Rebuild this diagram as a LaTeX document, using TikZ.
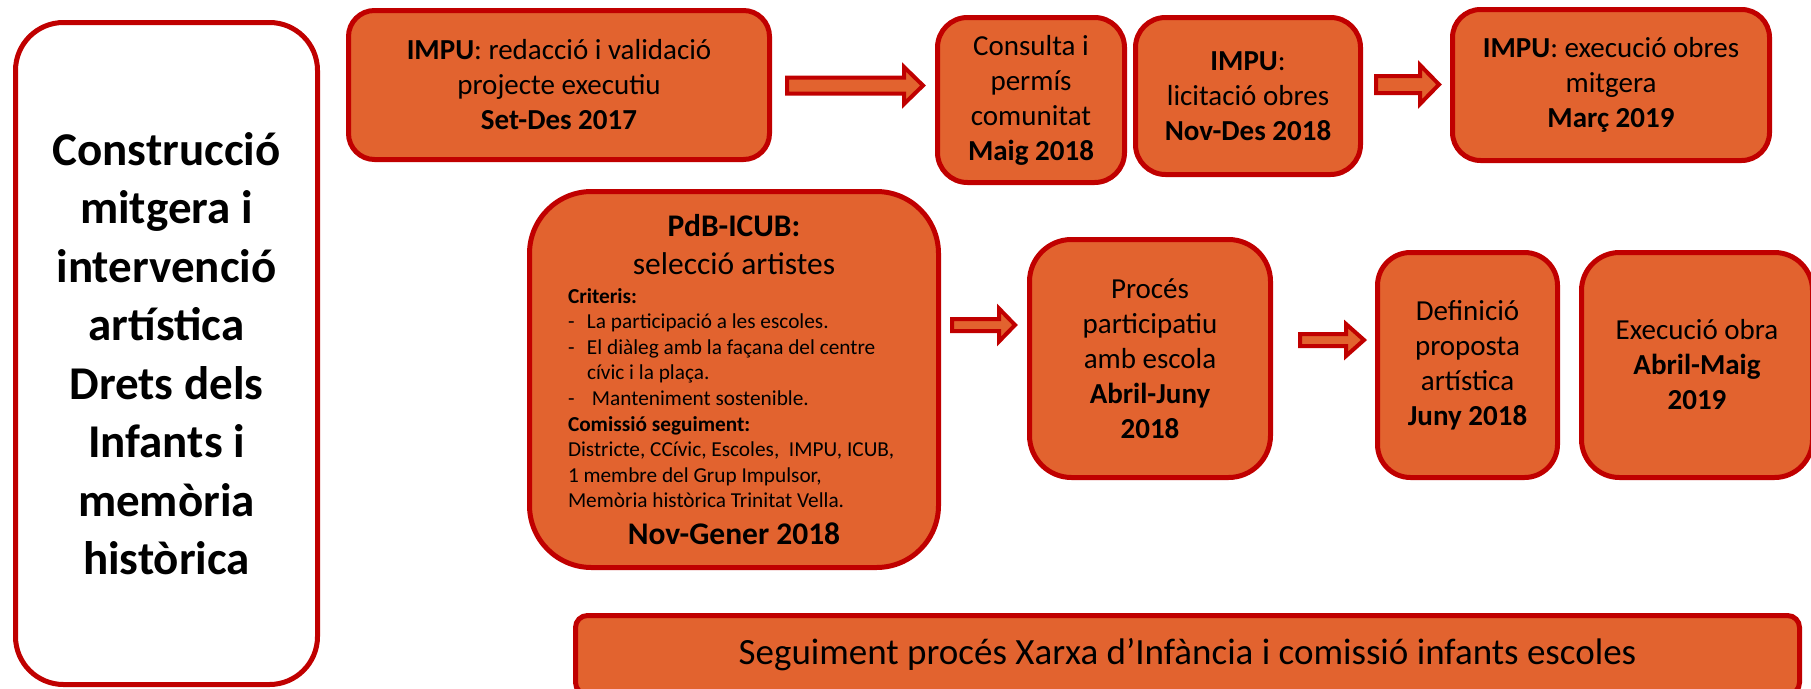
\documentclass[tikz,border=0pt]{standalone}
\usepackage{fontspec}
\setmainfont{Carlito}
\usetikzlibrary{calc}
\definecolor{boxfill}{HTML}{E2632F}
\definecolor{boxline}{HTML}{C00000}
\tikzset{
  box/.style={draw=boxline, line width=5pt, fill=boxfill, align=center, inner sep=0pt, text=black,
    font=\fontsize{29}{35}\selectfont},
  titlebox/.style={draw=boxline, line width=5pt, fill=white, align=center, inner sep=0pt, text=black,
    font=\fontsize{47}{58.5}\selectfont\bfseries},
  blockarrow/.style={draw=boxline, line width=4pt, fill=boxfill, line join=miter},
}
\newcommand{\blockarr}[5]{%
  \path[blockarrow] ($(#1)+(0,#3)$) -- ($(#2)+(-#5,#3)$) -- ($(#2)+(-#5,#4)$) -- (#2)
    -- ($(#2)+(-#5,-#4)$) -- ($(#2)+(-#5,-#3)$) -- ($(#1)+(0,-#3)$) -- cycle;}
\newcommand{\lline}[1]{\makebox[332pt][l]{#1}\par}
\newcommand{\ctrline}[1]{\makebox[332pt][c]{#1}\par}
\begin{document}
\begin{tikzpicture}[x=1pt,y=-1pt]
\useasboundingbox (0,0) rectangle (1811,688);
\clip (0,0) rectangle (1811,688);

% left title box
\node[titlebox, minimum width=302pt, minimum height=662pt, rounded corners=48pt] (L) at (166.5,353.5)
  {Construcció\\mitgera i\\intervenció\\artística\\Drets dels\\Infants i\\memòria\\històrica};

% top row
\node[box, minimum width=421pt, minimum height=149pt, rounded corners=26pt] (A) at (559,85)
  {\textbf{IMPU}: redacció i validació\\projecte executiu\\\textbf{Set-Des 2017}};
\node[box, minimum width=187pt, minimum height=165pt, rounded corners=30pt] (B) at (1031,100)
  {Consulta i\\permís\\comunitat\\\textbf{Maig 2018}};
\node[box, minimum width=225pt, minimum height=157pt, rounded corners=30pt] (C) at (1248,96)
  {\textbf{IMPU}:\\licitació obres\\\textbf{Nov-Des 2018}};
\node[box, minimum width=317pt, minimum height=151pt, rounded corners=28pt] (D) at (1611,85)
  {\textbf{IMPU}: execució obres\\mitgera\\\textbf{Març 2019}};

% middle row
\node[box, minimum width=409pt, minimum height=376pt, rounded corners=62pt, text width=332pt] (E) at (734,379.5)
  {\setlength{\parindent}{0pt}\spaceskip=0pt\relax\xspaceskip=0pt\relax
   {\fontsize{31.5}{38}\selectfont\ctrline{\textbf{PdB-ICUB:}}\ctrline{selecció artistes}}%
   \vspace{3.4pt}%
   {\fontsize{21.3}{25.6}\selectfont
   \lline{\textbf{Criteris:}}
   \lline{\makebox[19pt][l]{-}La participació a les escoles.}
   \lline{\makebox[19pt][l]{-}El diàleg amb la façana del centre}
   \lline{\hspace*{19pt}cívic i la plaça.}
   \lline{\makebox[24pt][l]{-}Manteniment sostenible.}
   \lline{\textbf{Comissió seguiment:}}
   \lline{Districte, CCívic, Escoles,\ \ IMPU, ICUB,}
   \lline{1 membre del Grup Impulsor,}
   \lline{Memòria històrica Trinitat Vella.}}%
   {\fontsize{31.5}{37}\selectfont\ctrline{\textbf{Nov-Gener 2018}}}};
\node[box, minimum width=241pt, minimum height=238pt, rounded corners=42pt] (F) at (1150,358.5)
  {Procés\\participatiu\\amb escola\\\textbf{Abril-Juny}\\\textbf{2018}};
\node[box, minimum width=180pt, minimum height=225pt, rounded corners=33pt] (G) at (1467.5,365)
  {Definició\\proposta\\artística\\\textbf{Juny 2018}};
\node[box, minimum width=231pt, minimum height=225pt, rounded corners=38pt] (H) at (1697,365)
  {Execució obra\\\textbf{Abril-Maig}\\\textbf{2019}};

% bottom bar
\node[box, minimum width=1224pt, minimum height=79pt, rounded corners=12pt, font=\fontsize{37}{44}\selectfont] (I) at (1187.5,655)
  {Seguiment procés Xarxa d’Infància i comissió infants escoles};

% block arrow end points, derived from the boxes they join
\coordinate (a1s) at ($(A.east)+(15,0.5)$);
\coordinate (a1e) at ($(A.east -| B.west)+(-12,0.5)$);
\coordinate (a2s) at ($(C.east |- D.west)+(13,-0.5)$);
\coordinate (a2e) at ($(D.west)+(-11,-0.5)$);
\coordinate (a3s) at ($(E.east)+(11,-54.5)$);
\coordinate (a3e) at ($(E.east -| F.west)+(-12,-54.5)$);
\coordinate (a4s) at ($(F.east)+(27,-18.5)$);
\coordinate (a4e) at ($(F.east -| G.west)+(-11,-18.5)$);

\blockarr{a1s}{a1e}{8}{18.5}{19}
\blockarr{a2s}{a2e}{8.5}{19.5}{19}
\blockarr{a3s}{a3e}{6}{16.5}{16}
\blockarr{a4s}{a4e}{6}{16}{18}
\end{tikzpicture}
\end{document}
